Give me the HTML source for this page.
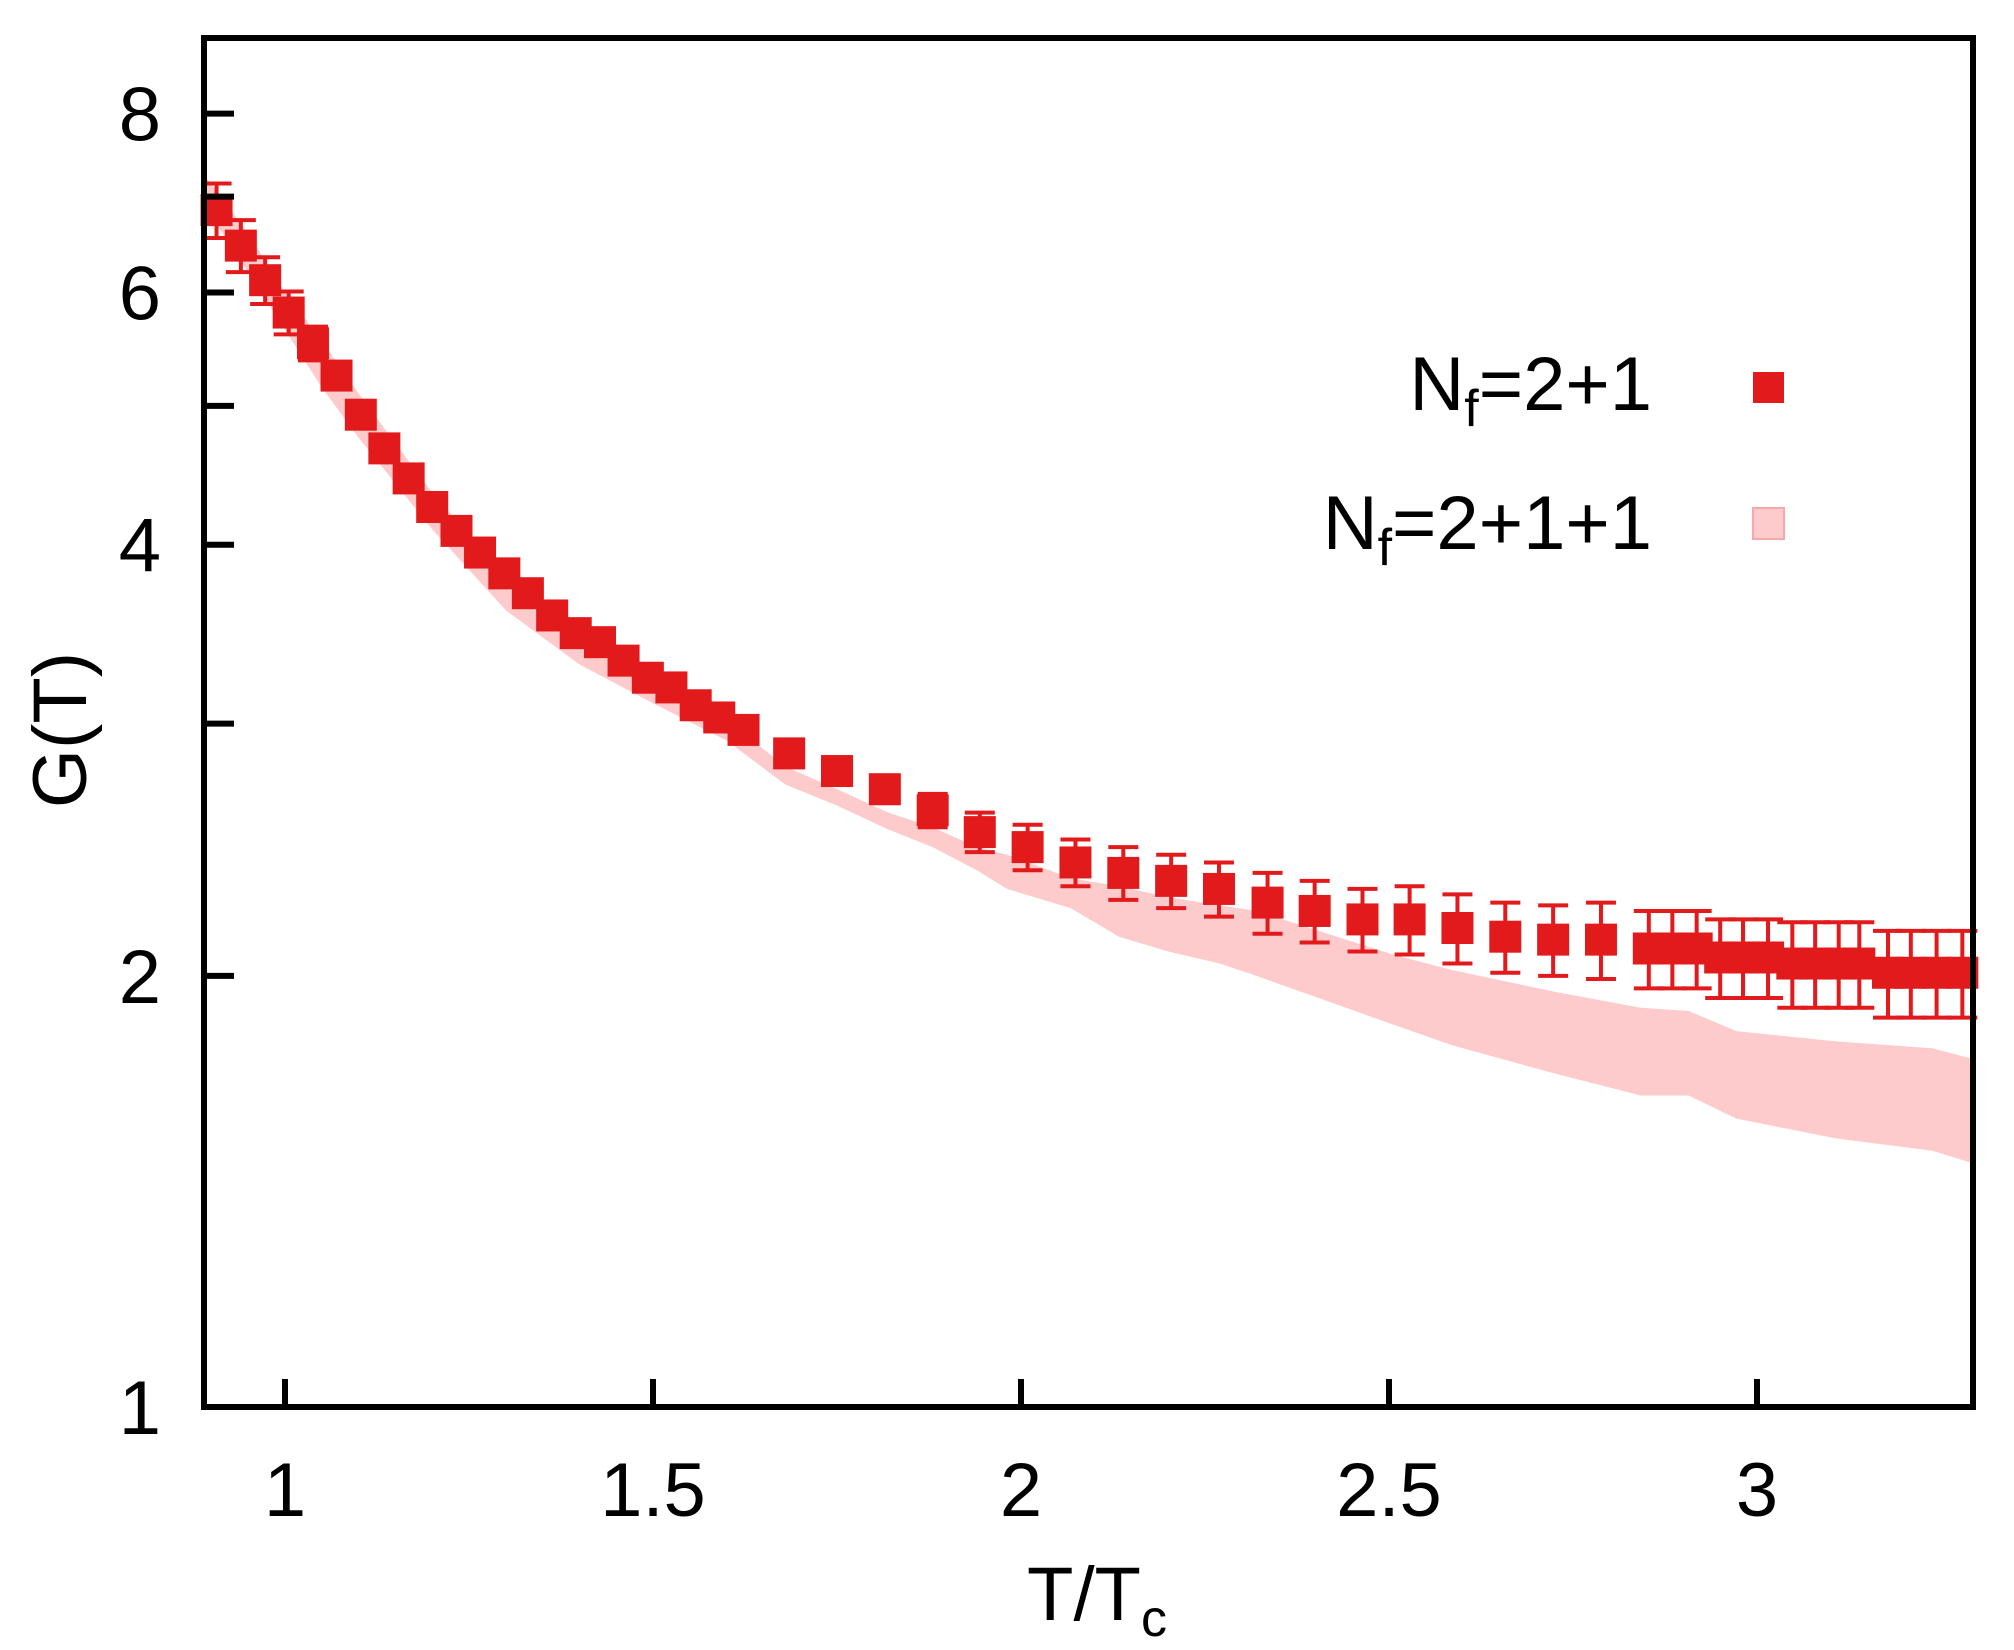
<!DOCTYPE html>
<html><head><meta charset="utf-8"><style>
html,body{margin:0;padding:0;background:#fff;}
svg{display:block;font-family:"Liberation Sans",Arial,sans-serif;}
</style></head><body>
<svg id="chart" width="2014" height="1650" viewBox="0 0 2014 1650" xmlns="http://www.w3.org/2000/svg">
<g id="band"></g>
<g id="errs"></g>
<g id="marks"></g>
<g id="axes"></g>
<g id="legend">
  <text x="1652" y="410" font-size="76" text-anchor="end">N<tspan font-size="52" dy="16">f</tspan><tspan dy="-16">=2+1</tspan></text>
  <rect x="1753" y="372" width="31" height="31" fill="#e31a1c"/>
  <text x="1652" y="549" font-size="76" text-anchor="end">N<tspan font-size="52" dy="16">f</tspan><tspan dy="-16">=2+1+1</tspan></text>
  <rect x="1753" y="508" width="31" height="31" fill="#fdcbcb" stroke="#f7a8a8" stroke-width="2"/>
</g>
<text x="1097" y="1620" font-size="76" text-anchor="middle">T/T<tspan font-size="52" dy="16">c</tspan></text>
<text x="0" y="0" font-size="76" text-anchor="middle" transform="translate(86,730) rotate(-90)">G(T)</text>
</svg>
<script>
const xs = [0.907,0.940,0.973,1.005,1.038,1.070,1.103,1.135,1.168,1.200,1.233,1.265,1.298,1.330,1.363,1.395,1.428,1.460,1.493,1.525,1.558,1.590,1.623,1.685,1.750,1.815,1.880,1.944,2.009,2.074,2.139,2.204,2.269,2.335,2.399,2.464,2.528,2.593,2.658,2.723,2.788,2.853,2.885,2.918,2.950,2.981,3.015,3.048,3.079,3.111,3.139,3.178,3.209,3.244,3.279];
const ys = [6.85,6.47,6.12,5.81,5.53,5.25,4.93,4.67,4.45,4.25,4.09,3.95,3.82,3.70,3.57,3.47,3.42,3.32,3.23,3.18,3.09,3.03,2.97,2.86,2.78,2.70,2.61,2.52,2.46,2.40,2.36,2.33,2.30,2.25,2.22,2.19,2.19,2.16,2.13,2.12,2.12,2.09,2.09,2.09,2.06,2.06,2.06,2.04,2.04,2.04,2.04,2.01,2.01,2.01,2.01];
const errs = [0.3,0.27,0.23,0.2,0.15,0.11,0.04,0.02,0.01,0,0,0,0,0,0,0,0,0,0,0,0,0,0,0.04,0.05,0.06,0.07,0.08,0.09,0.09,0.1,0.1,0.1,0.11,0.11,0.11,0.12,0.12,0.12,0.12,0.13,0.13,0.13,0.13,0.13,0.13,0.13,0.14,0.14,0.14,0.14,0.14,0.14,0.14,0.14];
const bandX = [0.89,0.95,1.0,1.05,1.1,1.2,1.3,1.4,1.5,1.6,1.68,1.75,1.82,1.88,1.94,1.981,2.068,2.133,2.20,2.27,2.32,2.392,2.505,2.584,2.724,2.842,2.907,2.972,3.107,3.238,3.293];
const bandHi = [7.25,6.6,6.0,5.55,5.1,4.35,3.8,3.45,3.2,3.02,2.80,2.70,2.60,2.54,2.46,2.43,2.34,2.31,2.27,2.24,2.22,2.16,2.07,2.02,1.95,1.90,1.89,1.83,1.80,1.78,1.75];
const bandLo = [6.9,6.2,5.65,5.15,4.75,4.1,3.6,3.3,3.1,2.92,2.72,2.63,2.53,2.46,2.37,2.30,2.23,2.13,2.08,2.04,2.00,1.94,1.85,1.79,1.71,1.65,1.65,1.59,1.54,1.51,1.48];
const xTicks = [1,1.5,2,2.5,3];
const xTickLabels = ["1","1.5","2","2.5","3"];
const yTicks = [1,2,3,4,5,6,7,8];
const yTickLabels = ["1","2","","4","","6","","8"];

const NS = "http://www.w3.org/2000/svg";
const L = 204, R = 1973, T = 38, B = 1407;
const H = 16;
function sx(v){ return 285 + (v - 1) * 736; }
function sy(v){ return 1407 - 622 * Math.log(v); }
function mk(tag, attrs, parent){
  const e = document.createElementNS(NS, tag);
  for (const k in attrs) e.setAttribute(k, attrs[k]);
  parent.appendChild(e); return e;
}
const bandG = document.getElementById('band');
let d = "";
bandX.forEach((x,i)=>{ d += (i?"L":"M") + sx(x).toFixed(1) + "," + sy(bandHi[i]).toFixed(1); });
for (let i = bandX.length-1; i >= 0; i--) d += "L" + sx(bandX[i]).toFixed(1) + "," + sy(bandLo[i]).toFixed(1);
d += "Z";
const bp = mk('path', {d: d, fill: '#fdcbcb'}, bandG);


const eg = document.getElementById('errs'), mg = document.getElementById('marks');
xs.forEach((x,i)=>{
  const cx = sx(x), cy = sy(ys[i]);
  if (errs[i] > 0) {
    const y1 = sy(ys[i] + errs[i]), y2 = sy(ys[i] - errs[i]);
    const eb = mk('path', {d: `M${cx},${y1}V${y2}M${cx-15},${y1}H${cx+15}M${cx-15},${y2}H${cx+15}`, stroke: '#e31a1c', 'stroke-width': 4, fill: 'none'}, eg);
    
    
  }
  const r = mk('rect', {x: cx-H, y: cy-H, width: 2*H, height: 2*H, fill: '#e31a1c'}, mg);
  
  
});
const ag = document.getElementById('axes');
const frame = mk('rect', {x: L, y: T, width: R-L, height: B-T, fill: 'none', stroke: '#000', 'stroke-width': 6}, ag);


xTicks.forEach((v,i)=>{
  const x = sx(v);
  const t = mk('line', {x1: x, x2: x, y1: B, y2: B-28, stroke: '#000', 'stroke-width': 6}, ag);
  
  
  const lb = mk('text', {x: x, y: 1516, 'font-size': 76, 'text-anchor': 'middle'}, ag);
  lb.textContent = xTickLabels[i];
  
  
});
yTicks.forEach((v,i)=>{
  const y = sy(v);
  if (v > 1) {
    const t = mk('line', {x1: L, x2: L+30, y1: y, y2: y, stroke: '#000', 'stroke-width': 6}, ag);
    
    
  }
  if (yTickLabels[i]) {
    const lb = mk('text', {x: 161, y: y + 27, 'font-size': 76, 'text-anchor': 'end'}, ag);
    lb.textContent = yTickLabels[i];
    
    
  }
});
</script>
</body></html>
